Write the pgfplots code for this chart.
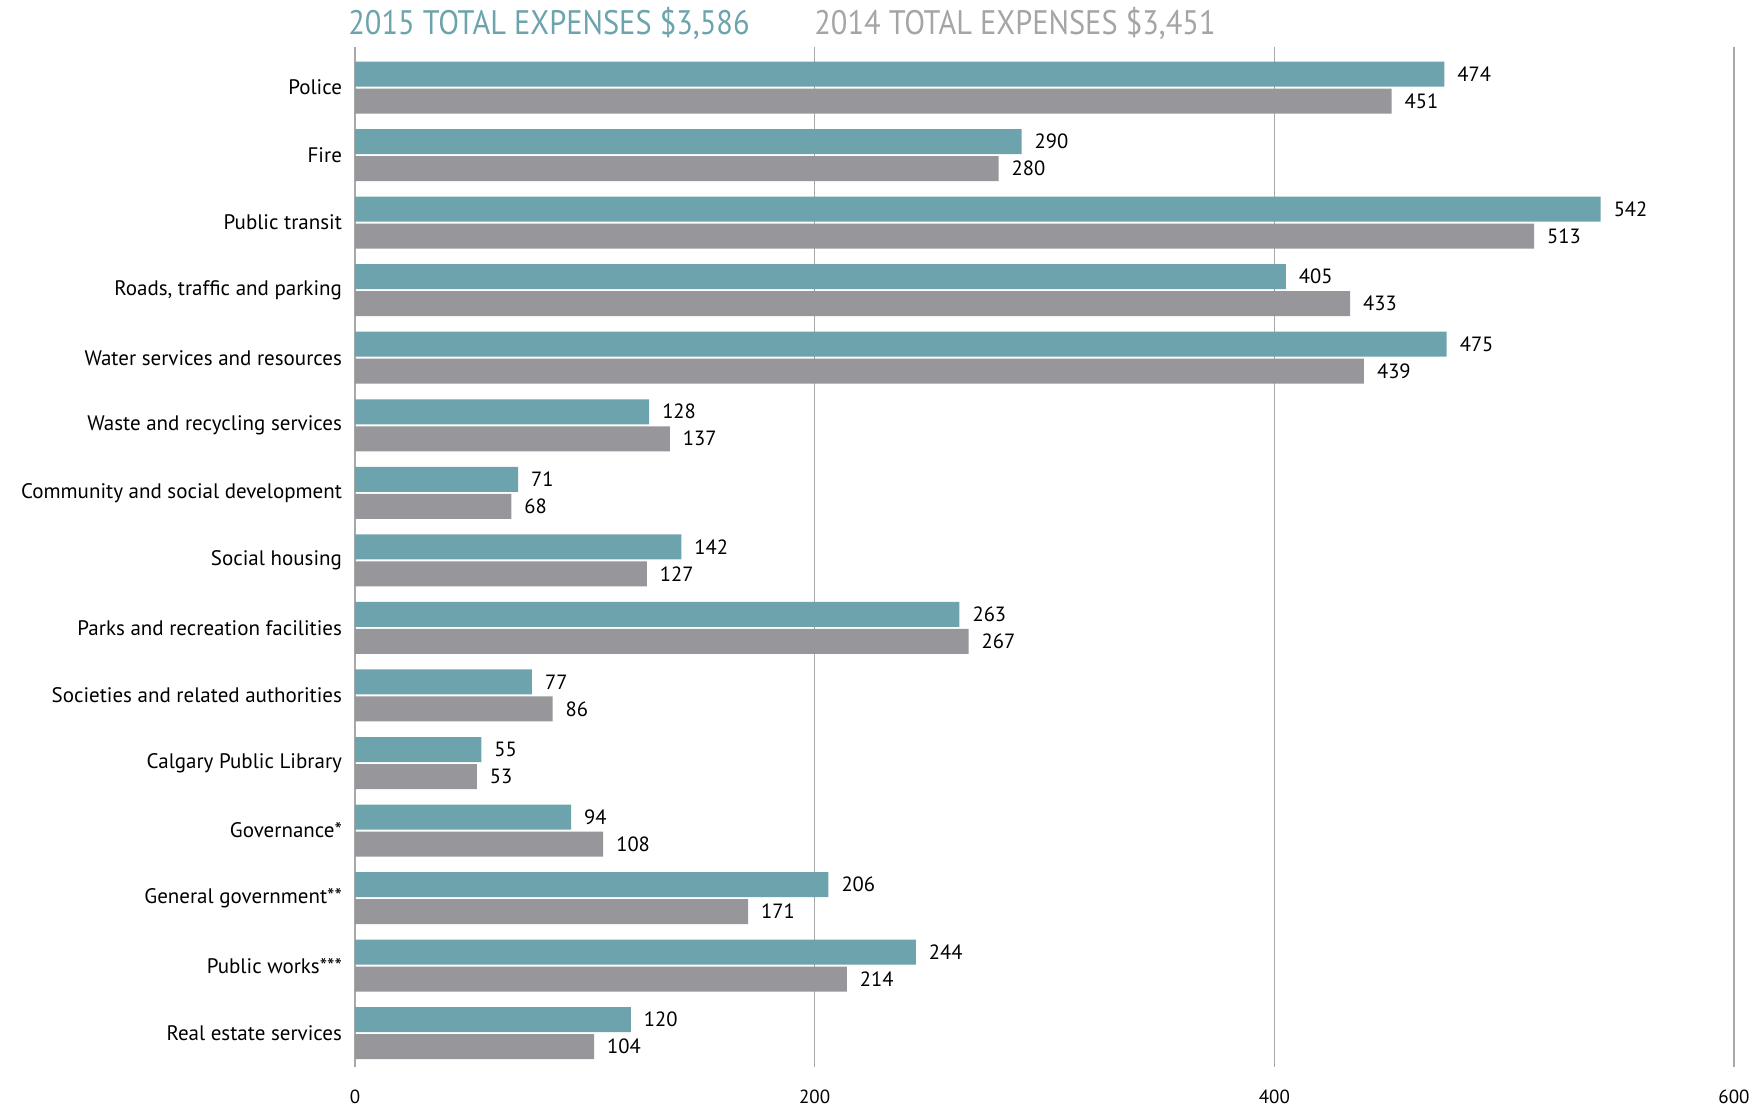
\documentclass[border=0pt]{standalone}
\usepackage{pgfplots}
\usepackage{pgfplotstable}
\pgfplotsset{compat=1.18}
\usepackage{fontspec}
\setmainfont{PT Sans}
\definecolor{tealbar}{HTML}{6DA3AD}
\definecolor{greybar}{HTML}{97979B}
\definecolor{greytitle}{HTML}{A5A5A5}
\definecolor{gridc}{HTML}{A8A8A8}
\pgfplotstableread{
idx a b
0 474 451
1 290 280
2 542 513
3 405 433
4 475 439
5 128 137
6 71 68
7 142 127
8 263 267
9 77 86
10 55 53
11 94 108
12 206 171
13 244 214
14 120 104
}\data
\begin{document}
\begin{tikzpicture}
\begin{axis}[
  at={(0,0)}, anchor=south west,
  scale only axis, width=689.5pt, height=510pt,
  xmin=0, xmax=600, ymin=-0.6, ymax=14.5,
  y dir=reverse,
  axis line style={draw=none},
  tick style={draw=none},
  xtick={0,200,400,600},
  xmajorgrids, grid style={gridc, line width=0.75pt},
  ytick={0,...,14},
  yticklabels={Police, Fire, Public transit, {Roads, traffic and parking}, Water services and resources, Waste and recycling services, Community and social development, Social housing, Parks and recreation facilities, Societies and related authorities, Calgary Public Library, Governance*, General government**, Public works***, Real estate services},
  yticklabel style={font=\fontsize{10.5}{12}\selectfont, anchor=east, xshift=-3pt},
  xticklabel style={font=\fontsize{9.5}{11}\selectfont, anchor=center, yshift=-15pt},
  /pgf/number format/assume math mode=true,
  clip=false,
]
\addplot[xbar, bar width=0.37, bar shift=-0.2, fill=tealbar, draw=none,
  point meta=x, nodes near coords,
  nodes near coords style={font=\fontsize{10.3}{12}\selectfont, anchor=west, xshift=3pt, yshift=6.75pt, text=black}]
  table[x=a, y=idx]{\data};
\addplot[xbar, bar width=0.37, bar shift=0.2, fill=greybar, draw=none,
  point meta=x, nodes near coords,
  nodes near coords style={font=\fontsize{10.3}{12}\selectfont, anchor=west, xshift=3pt, yshift=-6.75pt, text=black}]
  table[x=b, y=idx]{\data};
\node[anchor=base west, text=tealbar, font=\fontsize{17}{20}\selectfont, inner sep=0pt] at (rel axis cs:0,1) [xshift=-3.5pt, yshift=6pt] {\scalebox{0.895}[1]{2015 TOTAL EXPENSES \$3,586}};
\node[anchor=base west, text=greytitle, font=\fontsize{17}{20}\selectfont, inner sep=0pt] at (rel axis cs:0,1) [xshift=229.5pt, yshift=6pt] {\scalebox{0.895}[1]{2014 TOTAL EXPENSES \$3,451}};
\end{axis}
\pgfresetboundingbox
\useasboundingbox (-177.5pt,-20pt) rectangle (703pt,533.5pt);
\end{tikzpicture}
\end{document}
